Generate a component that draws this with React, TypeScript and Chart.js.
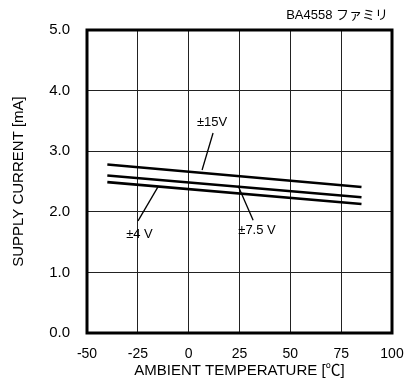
import React, { useEffect, useRef } from "react";
import { Chart, registerables } from "chart.js";

Chart.register(...registerables);

const temperatures = [-40, 85];
const supply15V = [2.78, 2.41];
const supply7_5V = [2.6, 2.24];
const supply4V = [2.49, 2.13];

const xTicks = [-50, -25, 0, 25, 50, 75, 100];
const yTicks = [0, 1, 2, 3, 4, 5];

const chartTitle = "BA4558 ファミリ";
const xTitle = "AMBIENT TEMPERATURE [℃]";
const yTitle = "SUPPLY CURRENT [mA]";

// label text, label centre (x, y), leader start (x, y), leader end (x, y) in data units
const annotationLabels = ["±15V", "±4 V", "±7.5 V"];
const annotationText = [
  [11.5, 3.48],
  [-24.2, 1.63],
  [33.6, 1.7],
];
const annotationLeaders = [
  [12, 3.3, 6.6, 2.69],
  [-24.9, 1.85, -15.1, 2.41],
  [31.7, 1.86, 24.3, 2.43],
];

const FONT = "'Liberation Sans', Arial, 'Noto Sans CJK JP', sans-serif";

const overlayPlugin = {
  id: "overlay",
  afterDraw(chart: any) {
    const { ctx, chartArea, scales } = chart;
    const xs = scales.x;
    const ys = scales.y;
    ctx.save();
    ctx.strokeStyle = "#000";
    ctx.lineWidth = 3;
    ctx.strokeRect(
      chartArea.left,
      chartArea.top,
      chartArea.right - chartArea.left,
      chartArea.bottom - chartArea.top
    );
    ctx.fillStyle = "#000";
    ctx.font = `13px ${FONT}`;
    ctx.textAlign = "right";
    ctx.textBaseline = "middle";
    ctx.fillText(chartTitle, chartArea.right - 4, 15);
    ctx.font = `13px ${FONT}`;
    ctx.textAlign = "center";
    ctx.lineWidth = 1.3;
    annotationLabels.forEach((label, i) => {
      const [tx, ty] = annotationText[i];
      ctx.fillText(label, xs.getPixelForValue(tx), ys.getPixelForValue(ty));
      const [x1, y1, x2, y2] = annotationLeaders[i];
      ctx.beginPath();
      ctx.moveTo(xs.getPixelForValue(x1), ys.getPixelForValue(y1));
      ctx.lineTo(xs.getPixelForValue(x2), ys.getPixelForValue(y2));
      ctx.stroke();
    });
    ctx.restore();
  },
};

export default function App() {
  const ref = useRef<HTMLCanvasElement>(null);
  useEffect(() => {
    if (!ref.current) return;
    const mk = (data: number[]) => ({
      data: temperatures.map((t, i) => ({ x: t, y: data[i] })),
      borderColor: "#000",
      backgroundColor: "#000",
      borderWidth: 2.6,
      pointRadius: 0,
      tension: 0,
      fill: false,
    });
    const chart = new Chart(ref.current, {
      type: "line",
      data: {
        datasets: [mk(supply15V), mk(supply7_5V), mk(supply4V)],
      },
      options: {
        animation: false,
        responsive: false,
        maintainAspectRatio: false,
        layout: { padding: { top: 30, right: 12, left: 0, bottom: 0 } },
        plugins: {
          legend: { display: false },
          tooltip: { enabled: false },
          title: { display: false },
        },
        scales: {
          x: {
            type: "linear",
            min: -50,
            max: 100,
            afterBuildTicks: (s: any) => {
              s.ticks = xTicks.map((v) => ({ value: v }));
            },
            afterFit: (s: any) => {
              s.height = 47;
              s.paddingRight = 0;
              s.paddingLeft = 0;
            },
            grid: { color: "#222", lineWidth: 1, drawTicks: false },
            border: { display: false },
            ticks: {
              color: "#000",
              font: { family: FONT, size: 14 },
              padding: 13,
              maxRotation: 0,
            },
            title: {
              display: true,
              text: xTitle,
              color: "#000",
              font: { family: FONT, size: 15 },
              padding: { top: 0, bottom: 0 },
            },
          },
          y: {
            type: "linear",
            min: 0,
            max: 5,
            afterBuildTicks: (s: any) => {
              s.ticks = yTicks.map((v) => ({ value: v }));
            },
            afterFit: (s: any) => {
              s.width = 87;
              s.paddingTop = 0;
              s.paddingBottom = 0;
            },
            grid: { color: "#222", lineWidth: 1, drawTicks: false },
            border: { display: false },
            ticks: {
              color: "#000",
              font: { family: FONT, size: 15 },
              padding: 17,
              callback: (v: any) => Number(v).toFixed(1),
            },
            title: {
              display: true,
              text: yTitle,
              color: "#000",
              font: { family: FONT, size: 15 },
              padding: { top: 10, bottom: 0 },
            },
          },
        },
      },
      plugins: [overlayPlugin],
    });
    return () => chart.destroy();
  }, []);
  return (
    <div style={{ position: "fixed", left: 0, top: 0, width: 404, height: 380, background: "#fff" }}>
      <canvas ref={ref} width={404} height={380} style={{ width: 404, height: 380 }} />
    </div>
  );
}
